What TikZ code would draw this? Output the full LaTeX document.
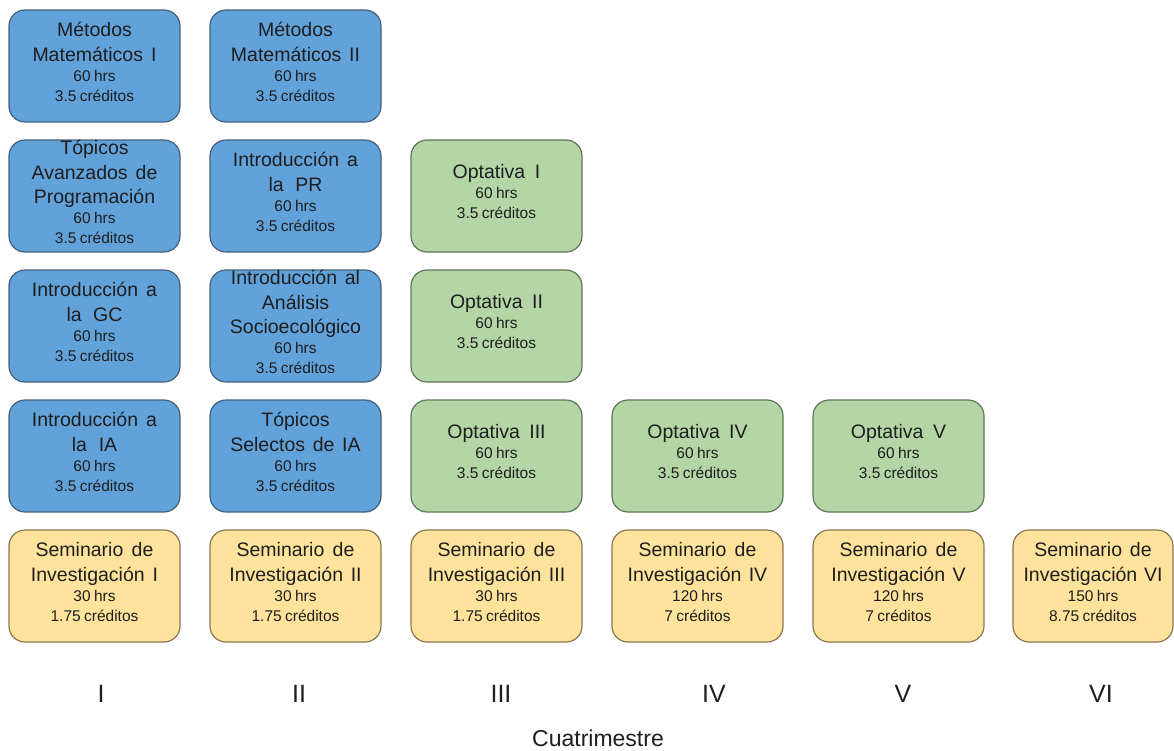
\documentclass[tikz,border=0pt]{standalone}
\usepackage{fontspec}
\setmainfont{Liberation Sans}
\setlength\parindent{0pt}
\definecolor{bfill}{HTML}{61A2DA}
\definecolor{bdraw}{HTML}{44607C}
\definecolor{gfill}{HTML}{B4D6A6}
\definecolor{gdraw}{HTML}{5F7658}
\definecolor{yfill}{HTML}{FFE39C}
\definecolor{ydraw}{HTML}{8A7652}
\definecolor{txt}{HTML}{1E1E1E}
\newcommand{\ttl}[1]{{\fontsize{19.5}{24.5}\selectfont\spaceskip=0.31em plus 0.1em #1\par}}
\newcommand{\sml}[1]{{\fontsize{15.5}{20}\selectfont #1\par}}
\begin{document}
\begin{tikzpicture}[x=1pt,y=-1pt,
  course/.style={rectangle, rounded corners=16pt, line width=1.2pt,
    minimum height=112pt, inner ysep=0pt, inner xsep=3pt,
    text width=165pt, align=center, text=txt,
    execute at end node={\vspace{8pt}}},
  cblue/.style={course, fill=bfill, draw=bdraw},
  cgreen/.style={course, fill=gfill, draw=gdraw},
  cyellow/.style={course, fill=yfill, draw=ydraw},
  roman/.style={anchor=base, text=txt, font=\fontsize{25}{30}\selectfont, inner sep=0pt},
  axislabel/.style={anchor=base, text=txt, font=\fontsize{23}{27}\selectfont, inner sep=0pt}]
\useasboundingbox (0,0) rectangle (1174,750);
\fill[white] (0,0) rectangle (1174,750);
% column 1
\node[cblue] (mm1) at (94.5,66) {\ttl{Métodos}\ttl{Matemáticos I}\sml{60 hrs}\sml{3.5 créditos}};
\node[cblue] (tap) at (94.5,196) {\ttl{Tópicos}\ttl{Avanzados de}\ttl{Programación}\sml{60 hrs}\sml{3.5 créditos}};
\node[cblue] (igc) at (94.5,326) {\ttl{Introducción a}\ttl{la GC}\sml{60 hrs}\sml{3.5 créditos}};
\node[cblue] (iia) at (94.5,456) {\ttl{Introducción a}\ttl{la IA}\sml{60 hrs}\sml{3.5 créditos}};
\node[cyellow] (si1) at (94.5,586) {\ttl{Seminario de}\ttl{Investigación I}\sml{30 hrs}\sml{1.75 créditos}};
% column 2
\node[cblue] (mm2) at (295.5,66) {\ttl{Métodos}\ttl{Matemáticos II}\sml{60 hrs}\sml{3.5 créditos}};
\node[cblue] (ipr) at (295.5,196) {\ttl{Introducción a}\ttl{la PR}\sml{60 hrs}\sml{3.5 créditos}};
\node[cblue] (ias) at (295.5,326) {\ttl{Introducción al}\ttl{Análisis}\ttl{Socioecológico}\sml{60 hrs}\sml{3.5 créditos}};
\node[cblue] (tsi) at (295.5,456) {\ttl{Tópicos}\ttl{Selectos de IA}\sml{60 hrs}\sml{3.5 créditos}};
\node[cyellow] (si2) at (295.5,586) {\ttl{Seminario de}\ttl{Investigación II}\sml{30 hrs}\sml{1.75 créditos}};
% column 3
\node[cgreen] (op1) at (496.5,196) {\ttl{Optativa I}\sml{60 hrs}\sml{3.5 créditos}};
\node[cgreen] (op2) at (496.5,326) {\ttl{Optativa II}\sml{60 hrs}\sml{3.5 créditos}};
\node[cgreen] (op3) at (496.5,456) {\ttl{Optativa III}\sml{60 hrs}\sml{3.5 créditos}};
\node[cyellow] (si3) at (496.5,586) {\ttl{Seminario de}\ttl{Investigación III}\sml{30 hrs}\sml{1.75 créditos}};
% column 4
\node[cgreen] (op4) at (697.5,456) {\ttl{Optativa IV}\sml{60 hrs}\sml{3.5 créditos}};
\node[cyellow] (si4) at (697.5,586) {\ttl{Seminario de}\ttl{Investigación IV}\sml{120 hrs}\sml{7 créditos}};
% column 5
\node[cgreen] (op5) at (898.5,456) {\ttl{Optativa V}\sml{60 hrs}\sml{3.5 créditos}};
\node[cyellow] (si5) at (898.5,586) {\ttl{Seminario de}\ttl{Investigación V}\sml{120 hrs}\sml{7 créditos}};
% column 6
\node[cyellow, text width=154pt] (si6) at (1093,586) {\ttl{Seminario de}\ttl{Investigación VI}\sml{150 hrs}\sml{8.75 créditos}};
% axis
\node[roman] (r1) at (101,702) {I};
\node[roman] (r2) at (299,702) {II};
\node[roman] (r3) at (501,702) {III};
\node[roman] (r4) at (714,702) {IV};
\node[roman] (r5) at (903,702) {V};
\node[roman] (r6) at (1101,702) {VI};
\node[axislabel] (cuat) at (598,746) {Cuatrimestre};
\end{tikzpicture}
\end{document}
